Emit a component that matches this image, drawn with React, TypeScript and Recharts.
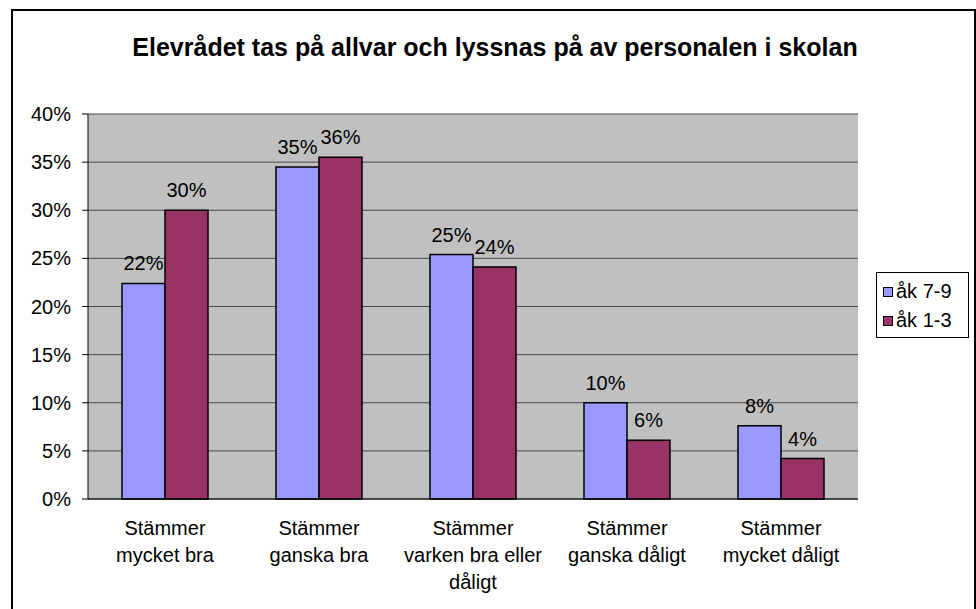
import React from "react";
import { BarChart, Bar, XAxis, YAxis, CartesianGrid, LabelList } from "recharts";

// categories (line breaks = wrapped tick label lines)
const categories = [
  "Stämmer\nmycket bra",
  "Stämmer\nganska bra",
  "Stämmer\nvarken bra eller\ndåligt",
  "Stämmer\nganska dåligt",
  "Stämmer\nmycket dåligt",
];
const ak79 = [22.4, 34.5, 25.4, 10.0, 7.6];
const ak13 = [30.0, 35.5, 24.1, 6.1, 4.2];
const yTicks = [0, 5, 10, 15, 20, 25, 30, 35, 40];
const edgeTicks = [0, 1, 2, 3, 4, 5];
const title = "Elevrådet tas på allvar och lyssnas på av personalen i skolan";

const FONT = '"Liberation Sans", Arial, sans-serif';
const BLUE = "#9999FF";
const PLUM = "#993366";

const data = categories.map((name, i) => ({ name, ak79: ak79[i], ak13: ak13[i] }));
const legendItems = [
  { label: "åk 7-9", color: BLUE },
  { label: "åk 1-3", color: PLUM },
];

function CategoryTick(props: any) {
  const { x, y, payload } = props;
  const lines = String(payload.value).split("\n");
  return (
    <text x={x} y={y} textAnchor="middle" fontSize={20} fill="#000" fontFamily={FONT}>
      {lines.map((l, i) => (
        <tspan key={i} x={x} dy={i === 0 ? 36 : 27}>
          {l}
        </tspan>
      ))}
    </text>
  );
}

const pct = (v: any) => `${Math.round(Number(v))}%`;

export default function App() {
  return (
    <div
      style={{
        position: "fixed",
        left: 0,
        top: 0,
        width: 976,
        height: 609,
        overflow: "hidden",
        background: "#fff",
        fontFamily: FONT,
      }}
    >
      {/* outer chart frame */}
      <div
        style={{
          position: "absolute",
          left: 11,
          top: 9,
          width: 965,
          height: 700,
          boxSizing: "border-box",
          border: "2px solid #000",
        }}
      />
      <div
        style={{
          position: "absolute",
          left: 11,
          top: 33,
          width: 968,
          textAlign: "center",
          fontSize: 25,
          fontWeight: "bold",
          color: "#000",
          lineHeight: "28px",
          whiteSpace: "nowrap",
        }}
      >
        {title}
      </div>

      <div style={{ position: "absolute", left: 0, top: 0 }}>
        <BarChart
          width={976}
          height={609}
          data={data}
          margin={{ top: 114, right: 118, left: 28, bottom: 0 }}
          barCategoryGap={34}
          barGap={0}
        >
          <CartesianGrid vertical={false} fill="#C0C0C0" stroke="#4a4a4a" fillOpacity={1} />
          <XAxis
            xAxisId="edges"
            type="number"
            domain={[0, 5]}
            ticks={edgeTicks}
            tick={false}
            axisLine={false}
            tickSize={6}
            tickLine={{ stroke: "#000" }}
            height={0}
          />
          <XAxis
            dataKey="name"
            interval={0}
            tickSize={0}
            tickMargin={0}
            tickLine={false}
            axisLine={{ stroke: "#000" }}
            height={110}
            tick={<CategoryTick />}
          />
          <YAxis
            domain={[0, 40]}
            ticks={yTicks}
            width={60}
            tickSize={6}
            tickMargin={11}
            tickFormatter={(v) => `${v}%`}
            axisLine={{ stroke: "#000" }}
            tickLine={{ stroke: "#000" }}
            tick={{ fill: "#000", fontSize: 20, fontFamily: FONT }}
          />
          <YAxis
            yAxisId="frame"
            orientation="right"
            domain={[0, 40]}
            width={0}
            tick={false}
            tickLine={false}
            axisLine={{ stroke: "#808080" }}
          />
          <Bar dataKey="ak79" name="åk 7-9" fill={BLUE} stroke="#000" strokeWidth={1.5} isAnimationActive={false}>
            <LabelList dataKey="ak79" position="top" offset={13} formatter={pct} fill="#000" fontSize={20} fontFamily={FONT} />
          </Bar>
          <Bar dataKey="ak13" name="åk 1-3" fill={PLUM} stroke="#000" strokeWidth={1.5} isAnimationActive={false}>
            <LabelList dataKey="ak13" position="top" offset={13} formatter={pct} fill="#000" fontSize={20} fontFamily={FONT} />
          </Bar>
        </BarChart>
      </div>

      {/* legend */}
      <div
        style={{
          position: "absolute",
          left: 876,
          top: 272,
          width: 93,
          height: 66,
          boxSizing: "border-box",
          border: "1px solid #000",
          background: "#fff",
          paddingTop: 4,
          paddingLeft: 6,
        }}
      >
        {legendItems.map((it) => (
          <div key={it.label} style={{ display: "flex", alignItems: "center", height: 29, fontSize: 20 }}>
            <span
              style={{
                display: "inline-block",
                width: 10,
                height: 10,
                boxSizing: "border-box",
                border: "1.5px solid #000",
                background: it.color,
                marginRight: 3,
              }}
            />
            <span>{it.label}</span>
          </div>
        ))}
      </div>
    </div>
  );
}
